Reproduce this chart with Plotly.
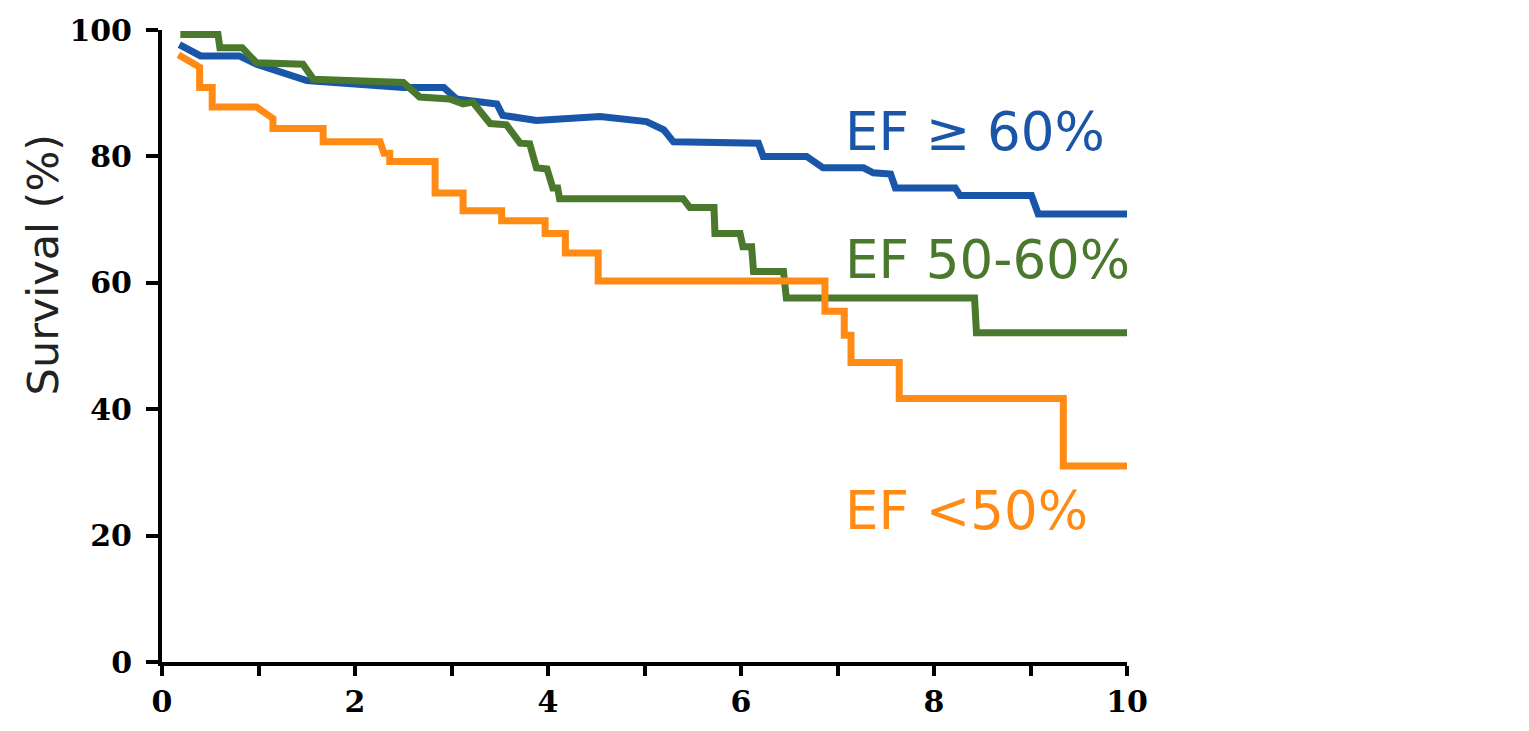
import plotly.graph_objects as go

# Kaplan-Meier style survival curves by ejection fraction group (years vs survival %)
ef60_time = [0.18, 0.40, 0.80, 0.98, 1.50, 2.50, 2.92, 3.05, 3.47, 3.53, 3.88, 4.54, 5.02,
             5.20, 5.30, 6.18, 6.23, 6.68, 6.85, 7.27, 7.37, 7.55, 7.60, 8.22, 8.27, 9.01,
             9.08, 10.0]
ef60_surv = [97.7, 95.9, 95.9, 94.6, 92.0, 90.9, 90.9, 89.1, 88.3, 86.5, 85.7, 86.3, 85.5,
             84.2, 82.3, 82.1, 80.0, 80.0, 78.2, 78.2, 77.4, 77.2, 75.0, 75.0, 73.8, 73.8,
             70.9, 70.9]

ef5060_time = [0.19, 0.58, 0.60, 0.83, 0.98, 1.46, 1.57, 2.50, 2.67, 2.98, 3.12, 3.22, 3.40,
               3.57, 3.71, 3.81, 3.88, 3.99, 4.05, 4.10, 4.12, 5.40, 5.47, 5.72, 5.73, 5.99,
               6.02, 6.11, 6.13, 6.44, 6.47, 8.42, 8.44, 10.0]
ef5060_surv = [99.3, 99.3, 97.2, 97.2, 94.8, 94.6, 92.2, 91.7, 89.4, 89.1, 88.3, 88.6, 85.2,
               85.0, 82.1, 82.0, 78.2, 78.0, 75.0, 75.0, 73.3, 73.3, 71.9, 71.9, 67.8, 67.8,
               65.7, 65.7, 61.8, 61.8, 57.6, 57.6, 52.1, 52.1]

ef50_time = [0.17, 0.30, 0.39, 0.39, 0.52, 0.52, 0.98, 1.15, 1.15, 1.67, 1.67, 2.26, 2.30,
             2.36, 2.36, 2.83, 2.83, 3.12, 3.12, 3.52, 3.52, 3.97, 3.97, 4.18, 4.18, 4.52,
             4.52, 6.87, 6.87, 7.07, 7.07, 7.14, 7.14, 7.64, 7.64, 9.34, 9.34, 10.0]
ef50_surv = [96.1, 95.0, 94.1, 90.9, 90.9, 87.8, 87.8, 86.0, 84.4, 84.4, 82.3, 82.3, 80.5,
             80.5, 79.2, 79.2, 74.2, 74.2, 71.4, 71.4, 69.8, 69.8, 67.8, 67.8, 64.7, 64.7,
             60.3, 60.3, 55.5, 55.5, 51.7, 51.7, 47.4, 47.4, 41.7, 41.7, 31.0, 31.0]

series = [
    ("EF ≥ 60%", ef60_time, ef60_surv, "#1a56a8", 84.0),
    ("EF 50-60%", ef5060_time, ef5060_surv, "#4a782d", 63.7),
    ("EF <50%", ef50_time, ef50_surv, "#ff8a14", 24.0),
]

x_ticks = list(range(0, 11))
x_ticktext = [str(v) if v % 2 == 0 else "" for v in x_ticks]
y_ticks = [0, 20, 40, 60, 80, 100]

fig = go.Figure()
for name, t, s, color, label_y in series:
    fig.add_trace(go.Scatter(
        x=t, y=s, mode="lines", name=name,
        line=dict(color=color, width=7, shape="linear"),
        cliponaxis=False, showlegend=False,
    ))
    fig.add_annotation(
        x=7.06, y=label_y, xref="x", yref="y", text=name, showarrow=False,
        xanchor="left", yanchor="middle",
        font=dict(family="DejaVu Sans", size=53, color=color),
    )

fig.add_annotation(
    x=-0.123, y=0.628, xref="paper", yref="paper", text="Survival (%)",
    showarrow=False, textangle=-90, xanchor="center", yanchor="middle",
    font=dict(family="DejaVu Sans", size=43, color="#222222"),
)

tick_font = dict(family="DejaVu Serif", size=30, color="black", weight="bold")
fig.update_xaxes(
    range=[0, 10], tickvals=x_ticks, ticktext=x_ticktext, showgrid=False, zeroline=False,
    showline=True, linecolor="black", linewidth=4,
    ticks="outside", ticklen=10, tickwidth=4, tickcolor="black",
    tickfont=tick_font,
)
fig.update_yaxes(
    range=[0, 100], tickvals=y_ticks, showgrid=False, zeroline=False,
    showline=True, linecolor="black", linewidth=4,
    ticks="outside", ticklen=12, tickwidth=4, tickcolor="black",
    tickfont=tick_font, ticklabelstandoff=8,
)

fig.update_layout(
    width=1529, height=731,
    margin=dict(l=162, r=402, t=27, b=64),
    paper_bgcolor="white", plot_bgcolor="white",
)

fig.write_html("out.html")
